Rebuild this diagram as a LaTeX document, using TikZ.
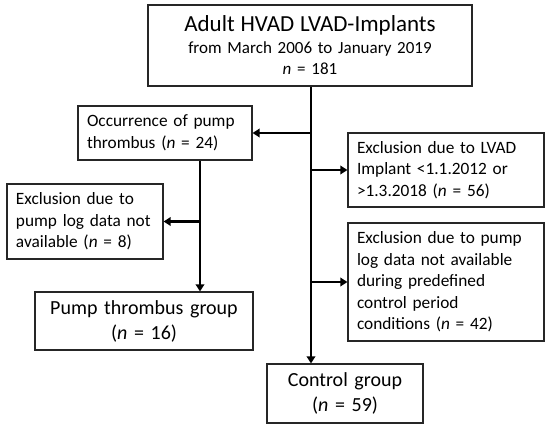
\documentclass[tikz,border=0pt]{standalone}
\usepackage{fontspec}
\setmainfont{Carlito}
\usetikzlibrary{arrows.meta}
\begin{document}
\begin{tikzpicture}[x=1pt,y=1pt,
  box/.style={draw=black!85, line width=1.2pt, rectangle, inner ysep=2pt, font=\fontsize{17.3}{21.5}\selectfont},
  lbox/.style={box, align=left, inner xsep=9pt},
  cbox/.style={box, align=center, inner xsep=4pt},
  gbox/.style={cbox, font=\fontsize{20}{25}\selectfont},
  arr/.style={line width=2.6pt, -{Triangle[length=7pt,width=8.5pt]}},
]
\useasboundingbox (0,0) rectangle (550,-429);
\node[cbox, minimum width=324pt, minimum height=81pt, text width=316pt] (top) at (310,-45.5)
  {{\fontsize{23}{26}\selectfont Adult HVAD LVAD-Implants}\\
   {\fontsize{17}{24}\selectfont from March 2006 to January 2019}\\
   {\fontsize{17}{23}\selectfont \textit{n} = 181}};
\node[lbox, minimum width=174pt, minimum height=54pt, text width=156pt] (occ) at (165,-133)
  {Occurrence of pump\\thrombus (\textit{n} = 24)};
\node[lbox, minimum width=156pt, minimum height=75pt, text width=138pt] (ex1) at (85,-221.5)
  {Exclusion due to\\pump log data not\\available (\textit{n} = 8)};
\node[gbox, minimum width=218pt, minimum height=58pt, text width=210pt] (ptg) at (144,-321)
  {Pump thrombus group\\(\textit{n} = 16)};
\node[lbox, minimum width=196pt, minimum height=74pt, text width=178pt] (ex2) at (446,-170)
  {Exclusion due to LVAD\\Implant <1.1.2012 or\\>1.3.2018 (\textit{n} = 56)};
\node[lbox, minimum width=196pt, minimum height=118pt, text width=178pt] (ex3) at (446,-282)
  {Exclusion due to pump\\log data not available\\during predefined\\control period\\conditions (\textit{n} = 42)};
\node[gbox, minimum width=156pt, minimum height=59pt, text width=148pt] (ctrl) at (345,-393.5)
  {Control group\\(\textit{n} = 59)};
\coordinate (mx) at (311,0);
\coordinate (lx) at (200,0);
\draw[arr] (top.south -| mx) -- (ctrl.north -| mx);
\draw[arr] (occ.east -| mx) -- (occ.east);
\draw[arr] (ex2.west -| mx) -- (ex2.west);
\draw[arr] (ex3.west -| mx) -- (ex3.west);
\draw[arr] (occ.south -| lx) -- (ptg.north -| lx);
\draw[arr] (ex1.east -| lx) -- (ex1.east);
\end{tikzpicture}
\end{document}
